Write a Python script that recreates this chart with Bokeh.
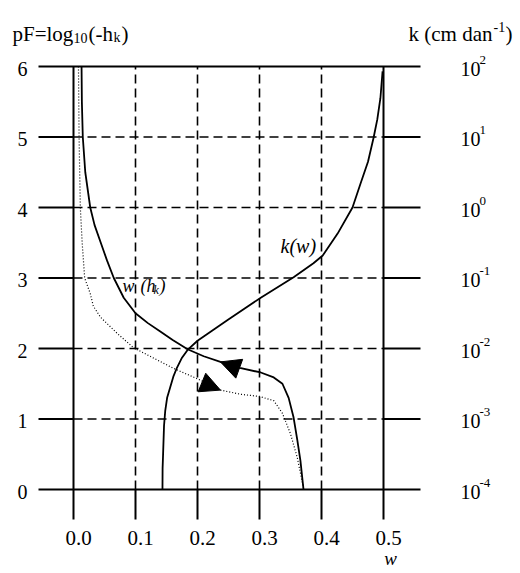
from bokeh.plotting import figure
from bokeh.models import Range1d, Arrow, NormalHead
from bokeh.core.properties import value
from bokeh.embed import file_html
from bokeh.resources import INLINE

# ---------------- data ----------------
pf_ticks = [0, 1, 2, 3, 4, 5, 6]
pf_labels = ["0", "1", "2", "3", "4", "5", "6"]
w_ticks = [0.0, 0.1, 0.2, 0.3, 0.4, 0.5]
w_labels = ["0.0", "0.1", "0.2", "0.3", "0.4", "0.5"]
k_base = "10"
k_exponents = ["-4", "-3", "-2", "-1", "0", "1", "2"]

# main retention curve w(h_k) (solid)
ret_w = [0.013, 0.0135, 0.015, 0.019, 0.027, 0.034, 0.044, 0.054, 0.065, 0.081,
         0.100, 0.120, 0.140, 0.160, 0.184, 0.210, 0.237, 0.270, 0.302, 0.323,
         0.337, 0.347, 0.355, 0.361, 0.366, 0.371]
ret_pf = [6.0, 5.5, 5.0, 4.5, 4.0, 3.75, 3.5, 3.25, 3.0, 2.72,
          2.50, 2.36, 2.24, 2.12, 1.99, 1.89, 1.81, 1.72, 1.66, 1.59,
          1.50, 1.30, 1.02, 0.70, 0.41, 0.0]

# second retention curve (dotted)
ret2_w = [0.008, 0.009, 0.011, 0.014, 0.018, 0.027, 0.032, 0.044, 0.071, 0.097,
          0.130, 0.161, 0.205, 0.237, 0.270, 0.300, 0.323, 0.337, 0.350, 0.361,
          0.371]
ret2_pf = [6.0, 5.0, 4.0, 3.5, 3.0, 2.78, 2.60, 2.44, 2.21, 2.01,
           1.86, 1.72, 1.55, 1.41, 1.35, 1.32, 1.26, 1.08, 0.79, 0.45,
           0.02]

# conductivity curve k(w) (solid), log10 k plotted on the pF scale (+4 shift)
k_w = [0.1435, 0.1437, 0.1445, 0.146, 0.148, 0.151, 0.156, 0.161, 0.167, 0.175,
       0.184, 0.200, 0.248, 0.302, 0.355, 0.387, 0.402, 0.426, 0.450, 0.463,
       0.475, 0.484, 0.490, 0.495, 0.4985]
k_log = [0.0, 0.3, 0.5, 0.9, 1.12, 1.30, 1.45, 1.60, 1.73, 1.87,
         1.98, 2.11, 2.40, 2.72, 3.01, 3.21, 3.32, 3.63, 4.00, 4.34,
         4.65, 4.99, 5.25, 5.55, 5.93]

# ---------------- helpers (page pixel -> data, for text/frame placement) ----
def X(px):
    return (px - 73) / 620.0

def Y(py):
    return (489 - py) / 70.5

FONT = "Liberation Serif"

p = figure(width=520, height=573,
           x_range=Range1d(X(0), X(520)), y_range=Range1d(Y(573), Y(0)),
           output_backend="svg", toolbar_location=None,
           x_axis_location=None, y_axis_location=None, min_border=0)
p.outline_line_color = None
p.xgrid.grid_line_color = None
p.ygrid.grid_line_color = None
p.background_fill_color = "white"
p.border_fill_color = "white"

LW = 2
w0, w1 = w_ticks[0], w_ticks[-1]
pf0, pf1 = pf_ticks[0], pf_ticks[-1]
xl, xr, yb = X(38), X(420), Y(519)
inner_pf = pf_ticks[1:-1]
inner_w = w_ticks[1:-1]
n_pf, n_w = len(inner_pf), len(inner_w)

# solid outer lines (y = 0 and y = 6 full width, incl. tick stubs)
p.segment(x0=[xl, xl], x1=[xr, xr], y0=[pf0, pf1], y1=[pf0, pf1],
          line_color="black", line_width=LW)
# solid x = 0 and x = 0.5 lines (incl. bottom stubs)
p.segment(x0=[w0, w1], x1=[w0, w1], y0=[yb, yb], y1=[pf1, pf1],
          line_color="black", line_width=LW)
# tick stubs outside the grid
p.segment(x0=[xl] * n_pf, x1=[w0] * n_pf, y0=inner_pf, y1=inner_pf,
          line_color="black", line_width=LW)
p.segment(x0=[w1] * n_pf, x1=[xr] * n_pf, y0=inner_pf, y1=inner_pf,
          line_color="black", line_width=LW)
p.segment(x0=inner_w, x1=inner_w, y0=[yb] * n_w, y1=[pf0] * n_w,
          line_color="black", line_width=LW)
# dashed interior grid
p.segment(x0=[w0] * n_pf, x1=[w1] * n_pf, y0=inner_pf, y1=inner_pf,
          line_color="black", line_width=1.6, line_dash="9 5")
p.segment(x0=inner_w, x1=inner_w, y0=[pf0] * n_w, y1=[pf1] * n_w,
          line_color="black", line_width=1.6, line_dash="9 5")

# curves
p.line(ret_w, ret_pf, line_color="black", line_width=1.8)
p.line(ret2_w, ret2_pf, line_color="black", line_width=1.2, line_dash="1 2")
p.line(k_w, k_log, line_color="black", line_width=1.8)

# arrows on the retention curves
p.add_layout(Arrow(end=NormalHead(size=20, fill_color="black", line_color="black"),
                   x_start=0.262, y_start=1.73, x_end=ret_w[16], y_end=ret_pf[16],
                   line_alpha=0))
p.add_layout(Arrow(end=NormalHead(size=20, fill_color="black", line_color="black"),
                   x_start=0.212, y_start=1.50, x_end=ret2_w[13], y_end=ret2_pf[13],
                   line_alpha=0))

# tick labels
p.text(x=[X(27)] * len(pf_ticks), y=pf_ticks, text=pf_labels,
       text_font=value(FONT), text_font_size=value("20px"),
       text_align="right", text_baseline="middle", text_color="black", y_offset=2)
p.text(x=w_ticks, y=[Y(530)] * len(w_ticks), text=w_labels,
       text_font=value(FONT), text_font_size=value("21px"),
       text_align="center", text_baseline="top", text_color="black", x_offset=5)
p.text(x=[X(460)] * len(pf_ticks), y=pf_ticks, text=[k_base] * len(pf_ticks),
       text_font=value(FONT), text_font_size=value("20px"),
       text_align="left", text_baseline="middle", text_color="black", y_offset=2)
p.text(x=[X(479)] * len(pf_ticks), y=pf_ticks, text=k_exponents,
       text_font=value(FONT), text_font_size=value("13px"),
       text_align="left", text_baseline="middle", text_color="black", y_offset=-7)


def lab(px, py, text, size="21px", style="normal", align="left"):
    p.text(x=[X(px)], y=[Y(py)], text=[text], text_font=value(FONT),
           text_font_size=value(size), text_font_style=style,
           text_align=align, text_baseline="alphabetic", text_color="black")

# top-left title: pF=log10(-hk)
lab(12, 33, "pF=log")
lab(73, 37, "10", size="14px")
lab(88, 33, "(-h")
lab(113, 37, "k", size="14px")
lab(121, 33, ")")

# top-right title: k (cm dan-1)
lab(408, 33, "k (cm dan")
lab(493, 26, "-1", size="14px")
lab(505, 33, ")")

# curve labels
lab(280, 245, "k(w)", size="20px", style="italic")
lab(122, 285, "w", size="18px", style="italic")
lab(140, 285, "(h", size="18px", style="italic")
lab(153, 289, "k", size="12px", style="italic")
lab(159, 285, ")", size="18px", style="italic")

# x-axis name
lab(390, 558, "w", size="19px", style="italic", align="center")

open("out.html", "w").write(file_html(p, INLINE))
